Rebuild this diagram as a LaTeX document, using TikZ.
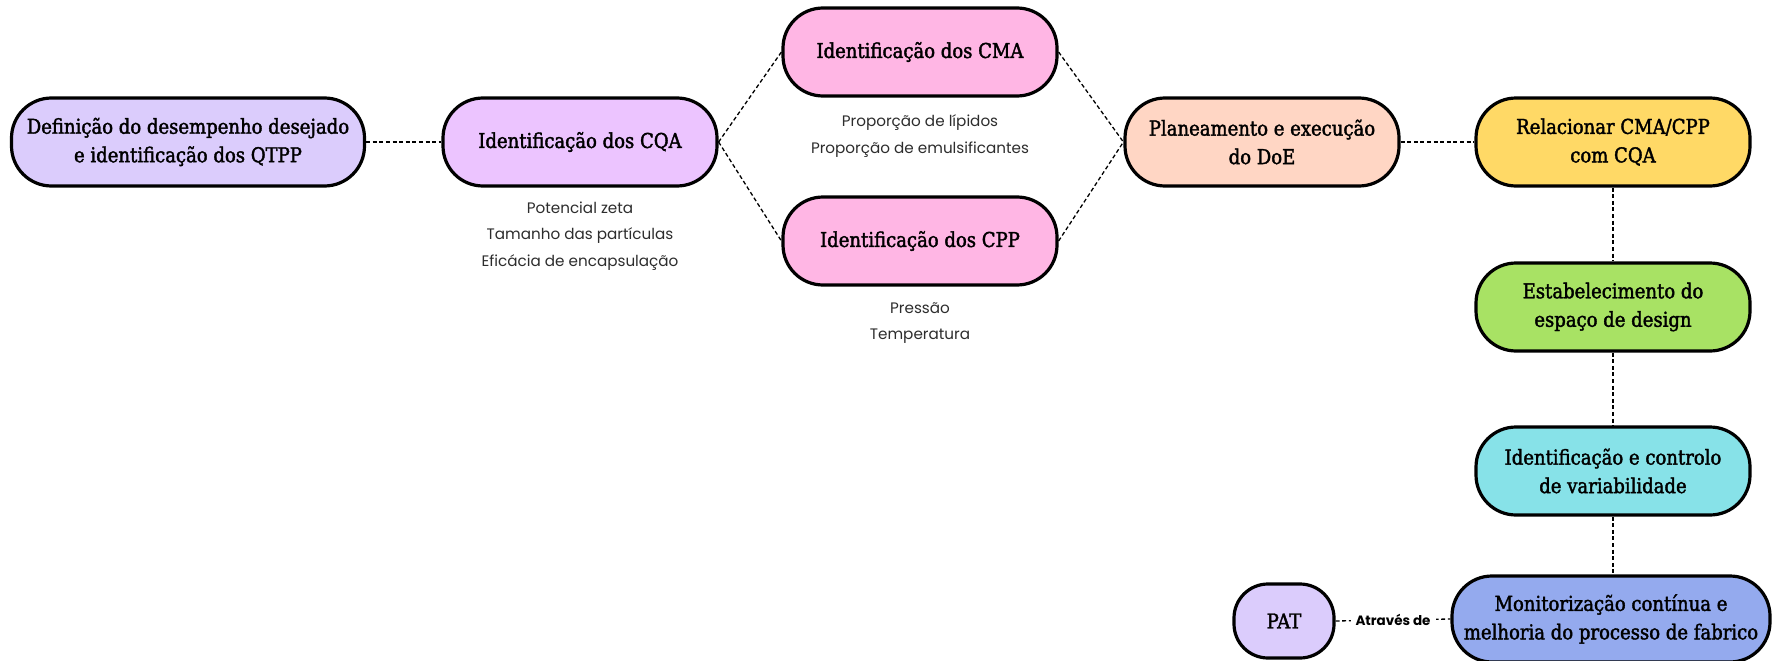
\documentclass[tikz,border=0pt]{standalone}
\usepackage{fontspec}
\setmainfont{DejaVu Serif}[FakeStretch=0.88, FakeBold=1.8]
\newfontfamily\notefont{Poppins}

\definecolor{cLav}{RGB}{219,204,252}
\definecolor{cViolet}{RGB}{236,196,255}
\definecolor{cPink}{RGB}{255,182,228}
\definecolor{cPeach}{RGB}{255,214,196}
\definecolor{cYellow}{RGB}{255,217,102}
\definecolor{cGreen}{RGB}{168,226,100}
\definecolor{cCyan}{RGB}{135,226,232}
\definecolor{cBlue}{RGB}{148,170,238}
\definecolor{cNote}{RGB}{45,45,45}

\begin{document}
\begin{tikzpicture}[x=1pt,y=-1pt,
  stage/.style={draw=black, line width=3.2pt, rounded corners=40pt,
    minimum width=274pt, minimum height=88pt, inner sep=0pt, align=center,
    font=\fontsize{20.5}{28.5}\selectfont},
  link/.style={line width=1.3pt, dash pattern=on 4pt off 2.6pt},
  note/.style={font=\notefont\fontsize{15.2}{26.5}\selectfont, text=cNote, align=center}
]
\fill[white] (0,0) rectangle (1772,661);
\useasboundingbox (0,0) rectangle (1772,661);

% process stages
\node[stage, fill=cLav, minimum width=353pt] (qtpp) at (188,142)
  {Definição do desempenho desejado\\e identificação dos QTPP};
\node[stage, fill=cViolet] (cqa) at (580,142) {Identificação dos CQA};
\node[stage, fill=cPink] (cma) at (920,52) {Identificação dos CMA};
\node[stage, fill=cPink] (cpp) at (920,241) {Identificação dos CPP};
\node[stage, fill=cPeach] (doe) at (1262,142) {Planeamento e execução\\do DoE};
\node[stage, fill=cYellow] (rel) at (1613,142) {Relacionar CMA/CPP\\com CQA};
\node[stage, fill=cGreen] (esp) at (1613,307) {Estabelecimento do\\espaço de design};
\node[stage, fill=cCyan] (var) at (1613,471) {Identificação e controlo\\de variabilidade};
\node[stage, fill=cBlue, minimum width=318pt, minimum height=86pt] (mon) at (1611,619)
  {Monitorização contínua e\\melhoria do processo de fabrico};
\node[stage, fill=cLav, minimum width=100pt, minimum height=74pt, rounded corners=34pt] (pat) at (1284,621) {PAT};

% notes under stages
\node[note] (ncqa) at (580,236) {Potencial zeta\\Tamanho das partículas\\Eficácia de encapsulação};
\node[note] (ncma) at (920,136) {Proporção de lípidos\\Proporção de emulsificantes};
\node[note] (ncpp) at (920,323) {Pressão\\Temperatura};

% connectors
\draw[link] (qtpp.east) -- (cqa.west);
\draw[link] (cqa.east) -- (cma.west);
\draw[link] (cqa.east) -- (cpp.west);
\draw[link] (cma.east) -- (doe.west);
\draw[link] (cpp.east) -- (doe.west);
\draw[link] (doe.east) -- (rel.west);
\draw[link] (rel.south) -- (esp.north);
\draw[link] (esp.south) -- (var.north);
\draw[link] (var.south) -- (var.south |- mon.north);
\draw[link] (pat.east) -- node[fill=white, inner sep=5pt, text=black,
  font=\notefont\bfseries\fontsize{13.5}{16}\selectfont] (via) {Através de} (mon.west);
\end{tikzpicture}
\end{document}
